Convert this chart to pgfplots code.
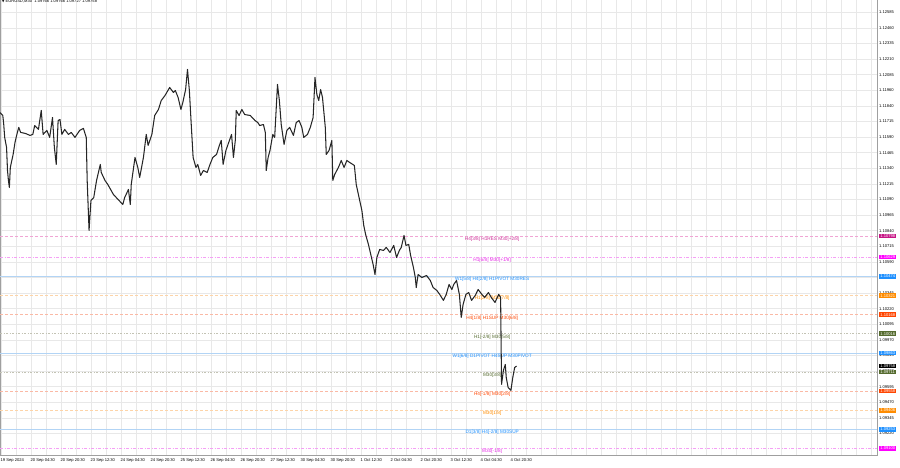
\documentclass[border=0pt]{standalone}
\usepackage{fontspec}
\setmainfont{Liberation Sans}
\newfontfamily\dejavu{DejaVu Sans}
\usepackage{pgfplots}
\pgfplotsset{compat=1.18}
\definecolor{mvr}{RGB}{199,21,133}
\definecolor{mvrline}{RGB}{240,165,212}
\definecolor{mvrtext}{RGB}{205,45,150}
\definecolor{mag}{RGB}{255,0,255}
\definecolor{magline}{RGB}{245,160,245}
\definecolor{magtext}{RGB}{230,40,230}
\definecolor{dblue}{RGB}{30,144,255}
\definecolor{bline}{RGB}{178,212,245}
\definecolor{dorange}{RGB}{255,140,0}
\definecolor{oline}{RGB}{253,212,168}
\definecolor{ored}{RGB}{255,69,0}
\definecolor{orline}{RGB}{250,185,165}
\definecolor{olive}{RGB}{85,107,47}
\definecolor{olline}{RGB}{195,195,180}
\definecolor{gridc}{RGB}{232,232,232}
\newcommand\tf{\fontsize{4.1pt}{5pt}\selectfont}
\newcommand\lf{\fontsize{4.7pt}{5.5pt}\selectfont}
\begin{document}
\begin{tikzpicture}[x=1pt,y=1pt]
\begin{axis}[
  at={(0,10)}, anchor=south west,
  scale only axis, width=877pt, height=458pt,
  xmin=0, xmax=935.5, ymin=1.09044, ymax=1.12703,
  clip=false,
  axis line style={draw=gray!75, line width=0.6pt},
  xtick={1,33,65,97,129,161,193,225,257,289,321,353,385,417,449,481,513,545},
  xticklabels={19 Sep 2024, 20 Sep 04:30, 20 Sep 20:30, 23 Sep 12:30, 24 Sep 04:30, 24 Sep 20:30, 25 Sep 12:30, 26 Sep 04:30, 26 Sep 20:30, 27 Sep 12:30, 30 Sep 04:30, 30 Sep 20:30, 1 Oct 12:30, 2 Oct 04:30, 2 Oct 20:30, 3 Oct 12:30, 4 Oct 04:30, 4 Oct 20:30},
  minor xtick={1,17,...,929},
  xminorgrids, xmajorgrids=false,
  minor grid style={gridc, line width=0.5pt},
  major grid style={gridc, line width=0.5pt},
  ytick={1.12585,1.12460,1.12336,1.12211,1.12086,1.11962,1.11837,1.11713,1.11588,1.11463,1.11339,1.11214,1.11089,1.10965,1.10840,1.10715,1.10591,1.10466,1.10342,1.10217,1.10092,1.09968,1.09843,1.09718,1.09594,1.09469,1.09344,1.09220},
  yticklabels={1.12585,1.12460,1.12335,1.12210,1.12085,1.11960,1.11840,1.11715,1.11590,1.11465,1.11340,1.11215,1.11090,1.10965,1.10840,1.10715,1.10590,1.10470,1.10345,1.10220,1.10095,1.09970,1.09845,1.09720,1.09595,1.09470,1.09345,1.09220},
  ymajorgrids,
  yticklabel pos=right,
  major tick length=0pt, minor tick length=0pt,
  xticklabel style={font=\tf, anchor=north west, inner sep=0pt, yshift=-2.5pt, xshift=-0.5pt},
  yticklabel style={font=\tf, anchor=west, inner sep=0pt, xshift=2pt},
]
% level lines
\addplot[mvrline, line width=0.7pt, dash pattern=on 3pt off 2pt] coordinates {(0,1.10798) (935.5,1.10798)};
\addplot[magline, line width=0.7pt, dash pattern=on 3pt off 1.5pt on 1pt off 1.5pt] coordinates {(0,1.10629) (935.5,1.10629)};
\addplot[bline, line width=0.8pt] coordinates {(0,1.10474) (935.5,1.10474)};
\addplot[oline, line width=0.7pt, dash pattern=on 3pt off 2pt] coordinates {(0,1.10321) (935.5,1.10321)};
\addplot[orline, line width=0.7pt, dash pattern=on 3pt off 2pt] coordinates {(0,1.10168) (935.5,1.10168)};
\addplot[olline, line width=0.7pt, dash pattern=on 2pt off 1.5pt on 1pt off 1.5pt] coordinates {(0,1.10016) (935.5,1.10016)};
\addplot[bline, line width=0.8pt] coordinates {(0,1.09863) (935.5,1.09863)};
\addplot[olline, line width=0.7pt, dash pattern=on 2pt off 1.5pt on 1pt off 1.5pt] coordinates {(0,1.09711) (935.5,1.09711)};
\addplot[orline, line width=0.7pt, dash pattern=on 3pt off 2pt] coordinates {(0,1.09558) (935.5,1.09558)};
\addplot[oline, line width=0.7pt, dash pattern=on 3pt off 2pt] coordinates {(0,1.09406) (935.5,1.09406)};
\addplot[bline, line width=0.8pt] coordinates {(0,1.09253) (935.5,1.09253)};
\addplot[magline, line width=0.7pt, dash pattern=on 3pt off 1.5pt on 1pt off 1.5pt] coordinates {(0,1.09100) (935.5,1.09100)};
% level labels
\tikzset{lvl/.style={font=\lf, yshift=-3pt, inner sep=0pt}}
\node[lvl, text=mvrtext] at (axis cs:525,1.10798) {H4[3/8] H1RES M30[+2/8]};
\node[lvl, text=magtext] at (axis cs:525,1.10629) {H1[6/8] M30[+1/8]};
\node[lvl, text=dblue] at (axis cs:525,1.10474) {W1[5/8] H4[2/8] H1PIVOT M30RES};
\node[lvl, text=dorange] at (axis cs:525,1.10321) {H1[2/8] M30[7/8]};
\node[lvl, text=ored] at (axis cs:525,1.10168) {H4[1/8] H1SUP M30[6/8]};
\node[lvl, text=olive] at (axis cs:525,1.10016) {H1[-2/8] M30[5/8]};
\node[lvl, text=dblue] at (axis cs:525,1.09863) {W1[6/8] D1PIVOT H4SUP M30PIVOT};
\node[lvl, text=olive] at (axis cs:525,1.09711) {M30[3/8]};
\node[lvl, text=ored] at (axis cs:525,1.09558) {H4[-1/8] M30[2/8]};
\node[lvl, text=dorange] at (axis cs:525,1.09406) {M30[1/8]};
\node[lvl, text=dblue] at (axis cs:525,1.09253) {D1[3/8] H4[-2/8] M30SUP};
\node[lvl, text=magtext] at (axis cs:525,1.09100) {M30[-1/8]};
% price (EURUSD M30)
\addplot[black!85, line width=1.05pt, line join=round] coordinates {
(0,1.11784) (3,1.11760) (4,1.11688) (5,1.11585) (7,1.11505) (8,1.11321) (9,1.11241) (10,1.11185)
(11,1.11345) (14,1.11449) (16,1.11545) (18,1.11609) (20,1.11665) (22,1.11625) (27,1.11617) (32,1.11601)
(35,1.11609) (37,1.11680) (41,1.11649) (44,1.11800) (46,1.11609) (50,1.11641) (53,1.11585) (56,1.11744)
(58,1.11505) (60,1.11369) (62,1.11720) (64,1.11728) (66,1.11609) (69,1.11649) (73,1.11609) (76,1.11625)
(80,1.11585) (85,1.11641) (89,1.11657) (92,1.11585) (93,1.11241) (95,1.10842) (97,1.11081) (100,1.11105)
(103,1.11241) (107,1.11369) (108,1.11305) (112,1.11241) (115,1.11209) (121,1.11129) (126,1.11089) (131,1.11049)
(133,1.11105) (137,1.11169) (139,1.11049) (140,1.11209) (144,1.11425) (147,1.11345) (149,1.11265) (153,1.11425)
(156,1.11609) (158,1.11521) (162,1.11609) (165,1.11760) (169,1.11808) (172,1.11880) (176,1.11920) (181,1.11984)
(185,1.11944) (187,1.11960) (190,1.11904) (193,1.11808) (195,1.11864) (198,1.11968) (200,1.12128) (202,1.11960)
(204,1.11688) (206,1.11425) (209,1.11345) (211,1.11369) (214,1.11281) (217,1.11321) (221,1.11305) (224,1.11369)
(227,1.11425) (231,1.11449) (234,1.11521) (236,1.11561) (238,1.11369) (241,1.11481) (244,1.11545) (247,1.11609)
(249,1.11425) (251,1.11561) (252,1.11800) (255,1.11760) (258,1.11808) (261,1.11768) (267,1.11760) (272,1.11720)
(275,1.11704) (277,1.11680) (281,1.11688) (283,1.11625) (284,1.11321) (286,1.11425) (288,1.11481) (291,1.11609)
(293,1.11585) (296,1.12008) (298,1.11880) (300,1.11688) (303,1.11529) (306,1.11641) (309,1.11665) (313,1.11601)
(316,1.11704) (319,1.11720) (322,1.11665) (324,1.11585) (328,1.11609) (331,1.11665) (334,1.11744) (336,1.12064)
(338,1.11928) (340,1.11880) (342,1.11968) (344,1.11904) (347,1.11665) (348,1.11449) (351,1.11481) (354,1.11561)
(355,1.11241) (357,1.11289) (361,1.11345) (364,1.11401) (367,1.11345) (370,1.11401) (373,1.11385) (378,1.11361)
(380,1.11209) (383,1.11105) (386,1.11002) (388,1.10882) (390,1.10810) (393,1.10730) (395,1.10666) (398,1.10570)
(400,1.10490) (402,1.10626) (405,1.10690) (409,1.10682) (412,1.10706) (416,1.10666) (420,1.10722) (423,1.10626)
(426,1.10682) (428,1.10706) (431,1.10802) (433,1.10722) (436,1.10730) (438,1.10642) (441,1.10546) (443,1.10466)
(444,1.10386) (446,1.10490) (450,1.10466) (455,1.10482) (459,1.10442) (462,1.10386) (466,1.10362) (469,1.10331)
(473,1.10283) (476,1.10331) (479,1.10410) (482,1.10370) (484,1.10410) (487,1.10442) (490,1.10331) (492,1.10147)
(494,1.10251) (497,1.10331) (500,1.10346) (503,1.10283) (507,1.10323) (510,1.10370) (514,1.10331) (517,1.10307)
(521,1.10346) (524,1.10307) (528,1.10267) (532,1.10331) (534,1.10307) (535,1.09612) (537,1.09724) (539,1.09771)
(540,1.09668) (542,1.09588) (545,1.09564) (547,1.09668) (549,1.09747) (551,1.09758)
};
% right-side price boxes
\tikzset{pbox/.style={anchor=west, xshift=2pt, font=\tf, text=white, inner xsep=1.2pt, inner ysep=0.9pt}}
\node[pbox, fill=mvr] at (axis cs:935.5,1.10798) {1.10798};
\node[pbox, fill=mag] at (axis cs:935.5,1.10629) {1.10629};
\node[pbox, fill=dblue] at (axis cs:935.5,1.10474) {1.10474};
\node[pbox, fill=dorange] at (axis cs:935.5,1.10321) {1.10321};
\node[pbox, fill=ored] at (axis cs:935.5,1.10168) {1.10168};
\node[pbox, fill=olive] at (axis cs:935.5,1.10016) {1.10016};
\node[pbox, fill=dblue] at (axis cs:935.5,1.09863) {1.09863};
\node[pbox, fill=black] at (axis cs:935.5,1.09758) {1.09758};
\node[pbox, fill=olive] at (axis cs:935.5,1.09711) {1.09711};
\node[pbox, fill=ored] at (axis cs:935.5,1.09558) {1.09558};
\node[pbox, fill=dorange] at (axis cs:935.5,1.09406) {1.09406};
\node[pbox, fill=dblue] at (axis cs:935.5,1.09253) {1.09253};
\node[pbox, fill=mag] at (axis cs:935.5,1.09100) {1.09100};
% title
\node[anchor=north west, inner sep=0pt, font=\tf, xshift=2pt, yshift=-2pt] at (rel axis cs:0,1) {{\dejavu\fontsize{3pt}{4pt}\selectfont ▼}\ EURUSD,M30\ \ 1.09766 1.09766 1.09727 1.09758};
\end{axis}
\pgfresetboundingbox
\path (0,0) rectangle (900,468);
\end{tikzpicture}
\end{document}
